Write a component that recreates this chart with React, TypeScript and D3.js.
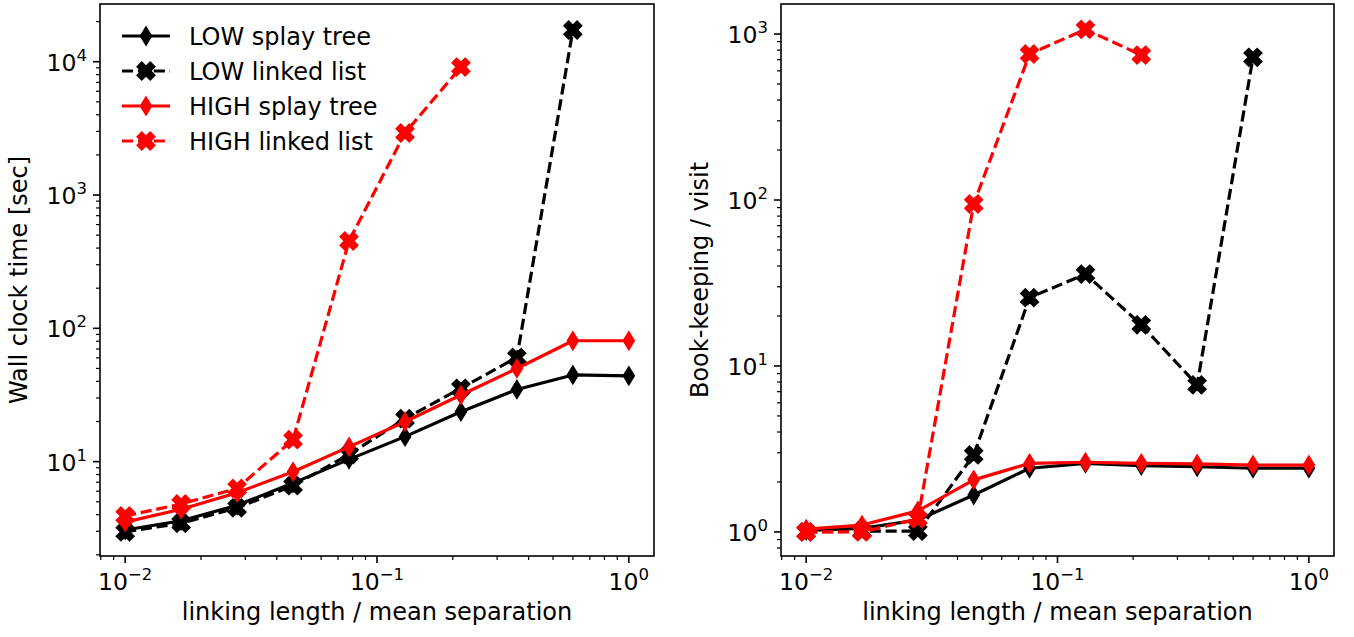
import React from "react";
import * as d3 from "d3";

// ---------- data ----------
const xValues = [0.01, 0.01668, 0.02783, 0.04642, 0.07743, 0.1292, 0.2154, 0.3594, 0.5995, 1.0];

// Left panel: wall clock time [sec]
const wallLowSplay = [3.07, 3.6, 4.7, 6.9, 10.4, 15.4, 23.7, 34.8, 44.7, 44.0];
const wallLowList = [2.97, 3.45, 4.5, 6.6, 11.3, 21.0, 35.5, 60.5, 17300];
const wallHighSplay = [3.52, 4.39, 5.85, 8.4, 12.9, 19.9, 31.6, 50.0, 80.7, 80.7];
const wallHighList = [3.91, 4.81, 6.3, 14.6, 452, 2920, 9120];

// Right panel: book-keeping / visit
const bookLowSplay = [1.02, 1.05, 1.18, 1.67, 2.42, 2.59, 2.51, 2.47, 2.42, 2.42];
const bookLowList = [1.0, 1.01, 1.01, 2.91, 25.8, 35.8, 17.7, 7.69, 724];
const bookHighSplay = [1.04, 1.1, 1.34, 2.06, 2.59, 2.63, 2.59, 2.57, 2.53, 2.53];
const bookHighList = [1.0, 1.0, 1.2, 94.6, 758, 1067, 747];

const legendLabels = ["LOW splay tree", "LOW linked list", "HIGH splay tree", "HIGH linked list"];
const xLabel = "linking length / mean separation";
const yLabels = ["Wall clock time [sec]", "Book-keeping / visit"];

// ---------- styles ----------
const FONT = "DejaVu Sans, Noto Sans, sans-serif";
const LW = 3.2;
const DASH = "11.1,4.8";
type Style = { color: string; dashed: boolean; marker: "d" | "X" };
const styles: Style[] = [
  { color: "#000000", dashed: false, marker: "d" },
  { color: "#000000", dashed: true, marker: "X" },
  { color: "#ff0000", dashed: false, marker: "d" },
  { color: "#ff0000", dashed: true, marker: "X" },
];

const X_DOMAIN: [number, number] = [Math.pow(10, -2.1), Math.pow(10, 0.1)];

function diamondPath(cx: number, cy: number) {
  const h = 17 / 2;
  const w = 10.4 / 2;
  return `M${cx},${cy - h}L${cx + w},${cy}L${cx},${cy + h}L${cx - w},${cy}Z`;
}
const plusPts = [
  [-1, -3], [1, -3], [1, -1], [3, -1], [3, 1], [1, 1],
  [1, 3], [-1, 3], [-1, 1], [-3, 1], [-3, -1], [-1, -1],
];
function xPath(cx: number, cy: number) {
  const s = 18 / 6;
  const c = Math.SQRT1_2;
  const pts = plusPts.map(([a, b]) => {
    const px = a * s, py = b * s;
    return [cx + (px * c - py * c), cy + (px * c + py * c)];
  });
  return "M" + pts.map((p) => p.join(",")).join("L") + "Z";
}
function Marker({ kind, cx, cy, color }: { kind: "d" | "X"; cx: number; cy: number; color: string }) {
  return (
    <path
      d={kind === "d" ? diamondPath(cx, cy) : xPath(cx, cy)}
      fill={color}
      stroke={color}
      strokeWidth={2}
      strokeLinejoin="miter"
    />
  );
}

function PowLabel({ exp, x, y, anchor }: { exp: number; x: number; y: number; anchor: string }) {
  const e = exp < 0 ? "\u2212" + Math.abs(exp) : String(exp);
  return (
    <text x={x} y={y} fontFamily={FONT} fontSize={23.5} textAnchor={anchor} fill="#000">
      <tspan>10</tspan>
      <tspan fontSize={16.5} dy={-10}>{e}</tspan>
    </text>
  );
}

type PanelProps = {
  left: number;
  right: number;
  top: number;
  bottom: number;
  yDomain: [number, number];
  series: number[][];
  ylabel: string;
  ylabelX: number;
  legend: boolean;
};

function Panel(p: PanelProps) {
  const x = d3.scaleLog().domain(X_DOMAIN).range([p.left, p.right]);
  const y = d3.scaleLog().domain(p.yDomain).range([p.bottom, p.top]);
  const line = d3
    .line<[number, number]>()
    .x((d) => x(d[0]))
    .y((d) => y(d[1]));

  const majors = (dom: [number, number]) => {
    const out: number[] = [];
    for (let e = Math.ceil(Math.log10(dom[0]) - 1e-9); e <= Math.floor(Math.log10(dom[1]) + 1e-9); e++) out.push(e);
    return out;
  };
  const minors = (dom: [number, number]) => {
    const out: number[] = [];
    for (let e = Math.floor(Math.log10(dom[0])) - 1; e <= Math.ceil(Math.log10(dom[1])); e++) {
      for (let k = 2; k <= 9; k++) {
        const v = k * Math.pow(10, e);
        if (v >= dom[0] && v <= dom[1]) out.push(v);
      }
    }
    return out;
  };
  const xMaj = majors(X_DOMAIN);
  const xMin = minors(X_DOMAIN);
  const yMaj = majors(p.yDomain);
  const yMin = minors(p.yDomain);
  const cxMid = (p.left + p.right) / 2;
  const cyMid = (p.top + p.bottom) / 2;

  return (
    <g>
      {p.series.map((vals, i) => {
        const st = styles[i];
        const pts: [number, number][] = vals.map((v, j) => [xValues[j], v]);
        return (
          <g key={i}>
            <path
              d={line(pts) || ""}
              fill="none"
              stroke={st.color}
              strokeWidth={LW}
              strokeDasharray={st.dashed ? DASH : undefined}
              strokeLinejoin="round"
            />
            {pts.map((d, j) => (
              <Marker key={j} kind={st.marker} cx={x(d[0])} cy={y(d[1])} color={st.color} />
            ))}
          </g>
        );
      })}
      {/* frame */}
      <rect
        x={p.left}
        y={p.top}
        width={p.right - p.left}
        height={p.bottom - p.top}
        fill="none"
        stroke="#000"
        strokeWidth={1.6}
      />
      {/* x ticks */}
      {xMin.map((v, i) => (
        <line key={"xm" + i} x1={x(v)} x2={x(v)} y1={p.bottom} y2={p.bottom + 4} stroke="#000" strokeWidth={1.2} />
      ))}
      {xMaj.map((e) => (
        <g key={"xM" + e}>
          <line x1={x(Math.pow(10, e))} x2={x(Math.pow(10, e))} y1={p.bottom} y2={p.bottom + 7} stroke="#000" strokeWidth={1.6} />
          <PowLabel exp={e} x={x(Math.pow(10, e))} y={p.bottom + 34} anchor="middle" />
        </g>
      ))}
      {/* y ticks */}
      {yMin.map((v, i) => (
        <line key={"ym" + i} x1={p.left - 4} x2={p.left} y1={y(v)} y2={y(v)} stroke="#000" strokeWidth={1.2} />
      ))}
      {yMaj.map((e) => (
        <g key={"yM" + e}>
          <line x1={p.left - 7} x2={p.left} y1={y(Math.pow(10, e))} y2={y(Math.pow(10, e))} stroke="#000" strokeWidth={1.6} />
          <PowLabel exp={e} x={p.left - 13} y={y(Math.pow(10, e)) + 9} anchor="end" />
        </g>
      ))}
      {/* axis labels */}
      <text x={cxMid} y={p.bottom + 64} fontFamily={FONT} fontSize={24} textAnchor="middle" fill="#000">
        {xLabel}
      </text>
      <text
        transform={`translate(${p.ylabelX},${cyMid}) rotate(-90)`}
        fontFamily={FONT}
        fontSize={24}
        textAnchor="middle"
        fill="#000"
      >
        {p.ylabel}
      </text>
      {p.legend &&
        legendLabels.map((lab, i) => {
          const st = styles[i];
          const ry = 36 + i * 35;
          const x0 = p.left + 22;
          const x1 = x0 + 48;
          return (
            <g key={"lg" + i}>
              <line
                x1={x0}
                x2={x1}
                y1={ry}
                y2={ry}
                stroke={st.color}
                strokeWidth={LW}
                strokeDasharray={st.dashed ? DASH : undefined}
              />
              <Marker kind={st.marker} cx={(x0 + x1) / 2} cy={ry} color={st.color} />
              <text x={x1 + 19} y={ry + 9} fontFamily={FONT} fontSize={24} fill="#000">
                {lab}
              </text>
            </g>
          );
        })}
    </g>
  );
}

export default function App() {
  return (
    <svg
      width={1354}
      height={637}
      viewBox="0 0 1354 637"
      style={{ position: "fixed", left: 0, top: 0, background: "#fff" }}
    >
      <rect x={0} y={0} width={1354} height={637} fill="#fff" />
      <Panel
        left={100}
        right={654}
        top={4}
        bottom={556}
        yDomain={[Math.pow(10, 0.292), Math.pow(10, 4.433)]}
        series={[wallLowSplay, wallLowList, wallHighSplay, wallHighList]}
        ylabel={yLabels[0]}
        ylabelX={27}
        legend={true}
      />
      <Panel
        left={781}
        right={1334}
        top={4}
        bottom={556}
        yDomain={[Math.pow(10, -0.145), Math.pow(10, 3.181)]}
        series={[bookLowSplay, bookLowList, bookHighSplay, bookHighList]}
        ylabel={yLabels[1]}
        ylabelX={708}
        legend={false}
      />
    </svg>
  );
}
